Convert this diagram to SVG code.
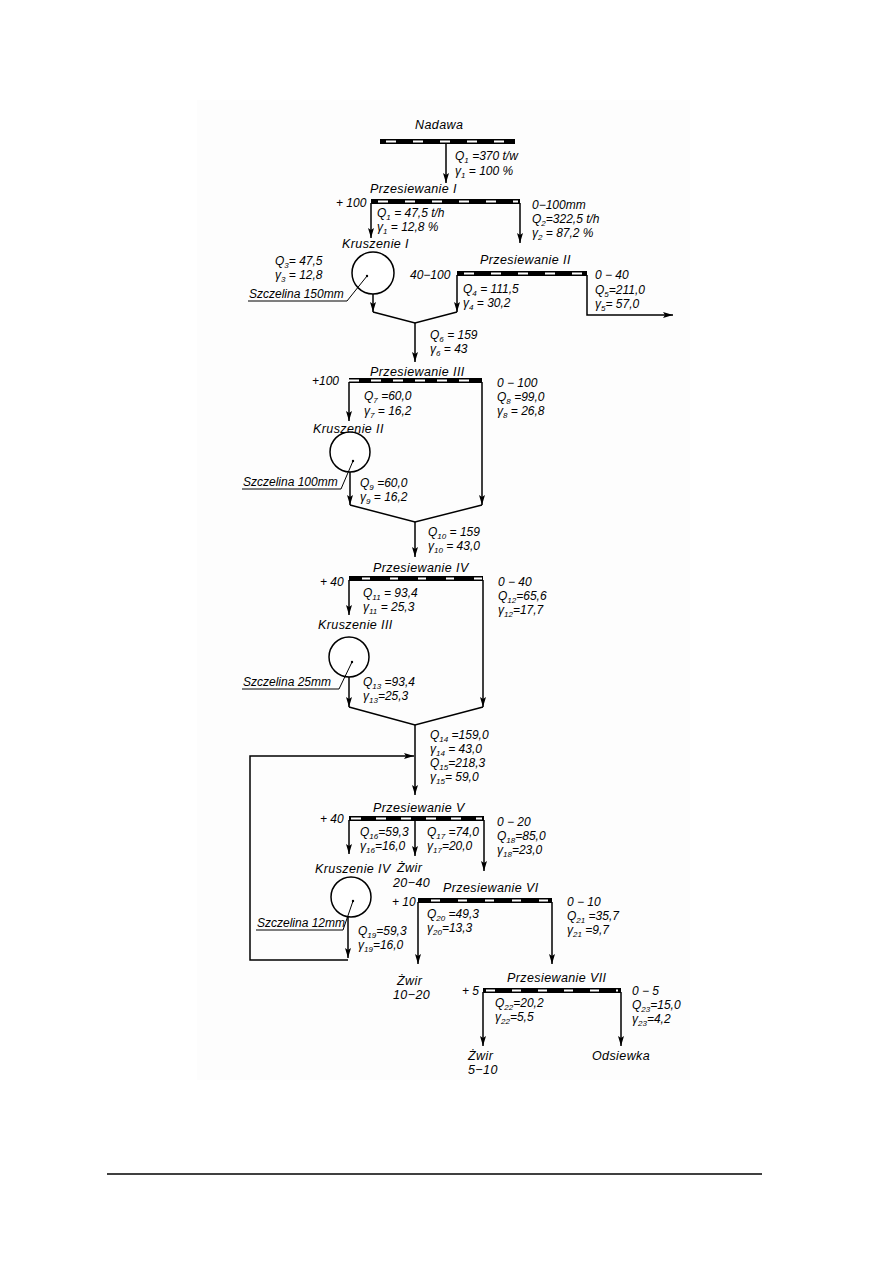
<svg xmlns="http://www.w3.org/2000/svg" width="893" height="1263" viewBox="0 0 893 1263">
<defs>
<marker id="ah" markerWidth="10" markerHeight="6" refX="10" refY="3" orient="auto" markerUnits="userSpaceOnUse" viewBox="0 0 10 6">
<path d="M0,0 L10,3 L0,6 L2,3 Z" fill="#000"/>
</marker>
</defs>
<style>
text{font-family:"Liberation Sans","DejaVu Sans",sans-serif;font-style:italic;font-size:12px;fill:#000}
.t{font-size:12.5px;letter-spacing:0.4px}
.s{font-size:8px}
.bar{fill:#000}
.dash{stroke:#fff;stroke-width:2;stroke-dasharray:10 17}
.ln{fill:none;stroke:#000;stroke-width:1.5}
.arr{fill:none;stroke:#000;stroke-width:1.5;marker-end:url(#ah)}
.cr{fill:#fff;stroke:#000;stroke-width:1.5}
.ld{fill:none;stroke:#000;stroke-width:1}
</style>
<rect x="0" y="0" width="893" height="1263" fill="#fff"/>
<rect x="197" y="100" width="493" height="980" fill="#fdfdfd"/>

<g id="connectors">
<path class="arr" d="M446,143 V183"/>
<path class="arr" d="M371,203 V238"/>
<path class="arr" d="M520,203 V243"/>
<path class="arr" d="M373,294 V312"/>
<path class="arr" d="M457,275 V312"/>
<path class="ln" d="M373,312 L415,323 L457,312"/>
<path class="arr" d="M587,275 V315 H673"/>
<path class="arr" d="M415,323 V362"/>
<path class="arr" d="M349,382 V421"/>
<path class="arr" d="M350,472 V505"/>
<path class="arr" d="M482,382 V505"/>
<path class="ln" d="M350,505 L415,522 L482,505"/>
<path class="arr" d="M415,522 V557"/>
<path class="arr" d="M349,580 V615"/>
<path class="arr" d="M349,677 V707"/>
<path class="arr" d="M483,580 V707"/>
<path class="ln" d="M349,707 L415,725 L483,707"/>
<path class="arr" d="M415,725 V795"/>
<path class="arr" d="M348,960 H250 V756 H414"/>
<path class="arr" d="M349,820 V854"/>
<path class="arr" d="M415,820 V856"/>
<path class="arr" d="M484,820 V871"/>
<path class="arr" d="M348,917 V958"/>
<path class="arr" d="M418,902 V964"/>
<path class="arr" d="M552,902 V964"/>
<path class="arr" d="M483,992 V1046"/>
<path class="arr" d="M621,992 V1046"/>
</g>

<g id="nadawa">
<text class="t" x="415" y="129">Nadawa</text>
<rect class="bar" x="380" y="139" width="135" height="5"/>
<line class="dash" x1="386" y1="141.5" x2="512" y2="141.5"/>
<text x="455" y="160">Q<tspan class="s" dy="3">1</tspan><tspan dy="-3"> =370 t/w</tspan></text>
<text x="455" y="175">γ<tspan class="s" dy="3">1</tspan><tspan dy="-3"> = 100 %</tspan></text>
</g>

<g id="przesiewanie-1">
<text class="t" x="370" y="193">Przesiewanie I</text>
<text x="336" y="207">+ 100</text>
<rect class="bar" x="371" y="199" width="149" height="5"/>
<line class="dash" x1="378" y1="201.5" x2="518" y2="201.5"/>
<text x="377" y="217">Q<tspan class="s" dy="3">1</tspan><tspan dy="-3"> = 47,5 t/h</tspan></text>
<text x="377" y="231">γ<tspan class="s" dy="3">1</tspan><tspan dy="-3"> = 12,8 %</tspan></text>
<text x="532" y="209">0−100mm</text>
<text x="532" y="223">Q<tspan class="s" dy="3">2</tspan><tspan dy="-3">=322,5 t/h</tspan></text>
<text x="532" y="237">γ<tspan class="s" dy="3">2</tspan><tspan dy="-3"> = 87,2 %</tspan></text>
</g>

<g id="kruszenie-1">
<text class="t" x="342" y="248">Kruszenie I</text>
<circle class="cr" cx="373" cy="273" r="21"/>
<text x="275" y="265">Q<tspan class="s" dy="3">3</tspan><tspan dy="-3">= 47,5</tspan></text>
<text x="275" y="279">γ<tspan class="s" dy="3">3</tspan><tspan dy="-3"> = 12,8</tspan></text>
<text x="249" y="298">Szczelina 150mm</text>
<path class="ld" d="M248,301 H347 L367,276"/>
<circle cx="367" cy="276" r="1.2" fill="#000"/>
</g>

<g id="przesiewanie-2">
<text class="t" x="480" y="264">Przesiewanie II</text>
<text x="410" y="279">40−100</text>
<rect class="bar" x="457" y="271" width="130" height="5"/>
<line class="dash" x1="464" y1="273.5" x2="585" y2="273.5"/>
<text x="463" y="293">Q<tspan class="s" dy="3">4</tspan><tspan dy="-3"> = 111,5</tspan></text>
<text x="463" y="307">γ<tspan class="s" dy="3">4</tspan><tspan dy="-3"> = 30,2</tspan></text>
<text x="595" y="279">0 − 40</text>
<text x="595" y="294">Q<tspan class="s" dy="3">5</tspan><tspan dy="-3">=211,0</tspan></text>
<text x="595" y="308">γ<tspan class="s" dy="3">5</tspan><tspan dy="-3">= 57,0</tspan></text>
</g>

<g id="strumien-6">
<text x="430" y="339">Q<tspan class="s" dy="3">6</tspan><tspan dy="-3"> = 159</tspan></text>
<text x="430" y="353">γ<tspan class="s" dy="3">6</tspan><tspan dy="-3"> = 43</tspan></text>
</g>

<g id="przesiewanie-3">
<text class="t" x="370" y="376">Przesiewanie III</text>
<text x="312" y="385">+100</text>
<rect class="bar" x="349" y="378" width="133" height="5"/>
<line class="dash" x1="349" y1="380.5" x2="480" y2="380.5" style="stroke-dasharray:10 12"/>
<text x="364" y="400">Q<tspan class="s" dy="3">7</tspan><tspan dy="-3"> =60,0</tspan></text>
<text x="364" y="415">γ<tspan class="s" dy="3">7</tspan><tspan dy="-3"> = 16,2</tspan></text>
<text x="497" y="387">0 − 100</text>
<text x="497" y="401">Q<tspan class="s" dy="3">8</tspan><tspan dy="-3"> =99,0</tspan></text>
<text x="497" y="415">γ<tspan class="s" dy="3">8</tspan><tspan dy="-3"> = 26,8</tspan></text>
</g>

<g id="kruszenie-2">
<text class="t" x="313" y="433">Kruszenie II</text>
<circle class="cr" cx="350" cy="452" r="20"/>
<text x="243" y="486">Szczelina 100mm</text>
<path class="ld" d="M242,489 H341 L353,461"/>
<circle cx="353" cy="461" r="1.2" fill="#000"/>
<text x="360" y="487">Q<tspan class="s" dy="3">9</tspan><tspan dy="-3"> =60,0</tspan></text>
<text x="360" y="501">γ<tspan class="s" dy="3">9</tspan><tspan dy="-3"> = 16,2</tspan></text>
</g>

<g id="strumien-10">
<text x="428" y="536">Q<tspan class="s" dy="3">10</tspan><tspan dy="-3"> = 159</tspan></text>
<text x="428" y="550">γ<tspan class="s" dy="3">10</tspan><tspan dy="-3"> = 43,0</tspan></text>
</g>

<g id="przesiewanie-4">
<text class="t" x="373" y="572">Przesiewanie IV</text>
<text x="320" y="586">+ 40</text>
<rect class="bar" x="349" y="576" width="134" height="5"/>
<line class="dash" x1="362" y1="578.5" x2="482" y2="578.5" style="stroke-dasharray:8 20"/>
<text x="363" y="597">Q<tspan class="s" dy="3">11</tspan><tspan dy="-3"> = 93,4</tspan></text>
<text x="363" y="611">γ<tspan class="s" dy="3">11</tspan><tspan dy="-3"> = 25,3</tspan></text>
<text x="498" y="586">0 − 40</text>
<text x="498" y="600">Q<tspan class="s" dy="3">12</tspan><tspan dy="-3">=65,6</tspan></text>
<text x="498" y="614">γ<tspan class="s" dy="3">12</tspan><tspan dy="-3">=17,7</tspan></text>
</g>

<g id="kruszenie-3">
<text class="t" x="318" y="629">Kruszenie III</text>
<circle class="cr" cx="349" cy="657" r="20"/>
<text x="243" y="686">Szczelina 25mm</text>
<path class="ld" d="M242,689 H339 L352,662"/>
<circle cx="352" cy="662" r="1.2" fill="#000"/>
<text x="363" y="686">Q<tspan class="s" dy="3">13</tspan><tspan dy="-3"> =93,4</tspan></text>
<text x="363" y="700">γ<tspan class="s" dy="3">13</tspan><tspan dy="-3">=25,3</tspan></text>
</g>

<g id="strumien-14-15">
<text x="430" y="739">Q<tspan class="s" dy="3">14</tspan><tspan dy="-3"> =159,0</tspan></text>
<text x="430" y="753">γ<tspan class="s" dy="3">14</tspan><tspan dy="-3"> = 43,0</tspan></text>
<text x="430" y="767">Q<tspan class="s" dy="3">15</tspan><tspan dy="-3">=218,3</tspan></text>
<text x="430" y="781">γ<tspan class="s" dy="3">15</tspan><tspan dy="-3">= 59,0</tspan></text>
</g>

<g id="przesiewanie-5">
<text class="t" x="373" y="812">Przesiewanie V</text>
<text x="320" y="823">+ 40</text>
<rect class="bar" x="349" y="816" width="135" height="5"/>
<line class="dash" x1="351" y1="818.5" x2="482" y2="818.5" style="stroke-dasharray:10 15"/>
<text x="360" y="836">Q<tspan class="s" dy="3">16</tspan><tspan dy="-3">=59,3</tspan></text>
<text x="360" y="850">γ<tspan class="s" dy="3">16</tspan><tspan dy="-3">=16,0</tspan></text>
<text x="427" y="836">Q<tspan class="s" dy="3">17</tspan><tspan dy="-3"> =74,0</tspan></text>
<text x="427" y="850">γ<tspan class="s" dy="3">17</tspan><tspan dy="-3">=20,0</tspan></text>
<text x="497" y="826">0 − 20</text>
<text x="497" y="840">Q<tspan class="s" dy="3">18</tspan><tspan dy="-3">=85,0</tspan></text>
<text x="497" y="854">γ<tspan class="s" dy="3">18</tspan><tspan dy="-3">=23,0</tspan></text>
</g>

<g id="zwir-20-40">
<text class="t" x="397" y="872">Żwir</text>
<text class="t" x="393" y="887">20−40</text>
</g>

<g id="kruszenie-4">
<text class="t" x="315" y="873">Kruszenie IV</text>
<circle class="cr" cx="351" cy="897" r="20"/>
<text x="257" y="927">Szczelina 12mm</text>
<path class="ld" d="M256,930 H343 L353,901"/>
<circle cx="353" cy="901" r="1.2" fill="#000"/>
<text x="358" y="935">Q<tspan class="s" dy="3">19</tspan><tspan dy="-3">=59,3</tspan></text>
<text x="358" y="949">γ<tspan class="s" dy="3">19</tspan><tspan dy="-3">=16,0</tspan></text>
</g>

<g id="przesiewanie-6">
<text class="t" x="443" y="892">Przesiewanie VI</text>
<text x="392" y="906">+ 10</text>
<rect class="bar" x="418" y="898" width="134" height="5"/>
<line class="dash" x1="431" y1="900.5" x2="550" y2="900.5" style="stroke-dasharray:9 18"/>
<text x="427" y="918">Q<tspan class="s" dy="3">20</tspan><tspan dy="-3"> =49,3</tspan></text>
<text x="427" y="932">γ<tspan class="s" dy="3">20</tspan><tspan dy="-3">=13,3</tspan></text>
<text x="567" y="906">0 − 10</text>
<text x="567" y="920">Q<tspan class="s" dy="3">21</tspan><tspan dy="-3"> =35,7</tspan></text>
<text x="567" y="934">γ<tspan class="s" dy="3">21</tspan><tspan dy="-3"> =9,7</tspan></text>
</g>

<g id="zwir-10-20">
<text class="t" x="397" y="985">Żwir</text>
<text class="t" x="393" y="999">10−20</text>
</g>

<g id="przesiewanie-7">
<text class="t" x="507" y="982">Przesiewanie VII</text>
<text x="462" y="995">+ 5</text>
<rect class="bar" x="483" y="988" width="138" height="5"/>
<line class="dash" x1="486" y1="990.5" x2="618" y2="990.5" style="stroke-dasharray:9 17"/>
<text x="495" y="1007">Q<tspan class="s" dy="3">22</tspan><tspan dy="-3">=20,2</tspan></text>
<text x="495" y="1021">γ<tspan class="s" dy="3">22</tspan><tspan dy="-3">=5,5</tspan></text>
<text x="632" y="995">0 − 5</text>
<text x="632" y="1009">Q<tspan class="s" dy="3">23</tspan><tspan dy="-3">=15,0</tspan></text>
<text x="632" y="1023">γ<tspan class="s" dy="3">23</tspan><tspan dy="-3">=4,2</tspan></text>
</g>

<g id="zwir-5-10">
<text class="t" x="468" y="1060">Żwir</text>
<text class="t" x="468" y="1074">5−10</text>
</g>

<g id="odsiewka">
<text class="t" x="592" y="1060">Odsiewka</text>
</g>

<line x1="107" y1="1174" x2="762" y2="1174" stroke="#000" stroke-width="1.3"/>
</svg>
